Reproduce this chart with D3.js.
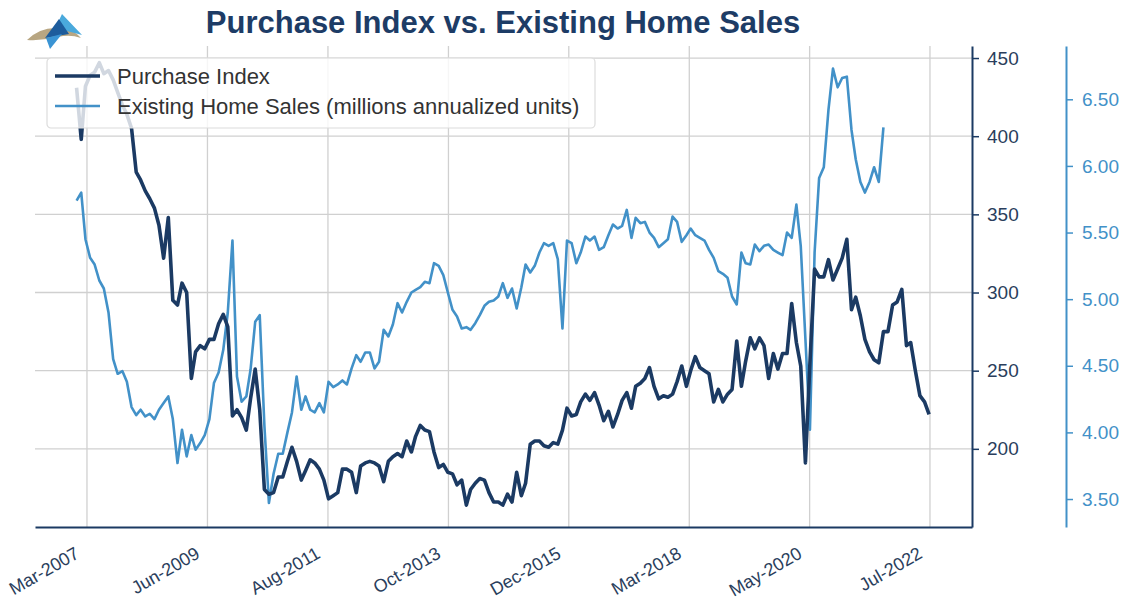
<!DOCTYPE html>
<html>
<head>
<meta charset="utf-8">
<script src="https://cdn.jsdelivr.net/npm/d3@7"></script>
<style>
	body { margin: 0; background: #fff; }
	text { font-family: 'Liberation Sans', Arial, sans-serif; }
</style>
</head>
<body>
<div class="chart"></div>
<script>
// monthly values, first value = Jan-2007
const firstMonth = new Date(2007, 0, 15);

// MBA purchase index (right axis)
const purchaseIndex = [
	431, 398, 432, 439, 441, 447, 440, 442, 436, 428,
	420, 414, 405, 377, 372, 365, 360, 354, 343, 322,
	348, 295, 292, 306, 300, 245, 262, 266, 264, 270,
	270, 280, 286, 278, 221, 225, 220, 212, 232, 251,
	225, 174, 171, 172, 182, 182, 192, 201, 192, 180,
	186, 193, 191, 187, 180, 168, 170, 172, 187, 187,
	185, 172, 189, 191, 192, 191, 189, 179, 192, 195,
	197, 195, 205, 198, 208, 215, 212, 211, 198, 188,
	190, 185, 184, 177, 180, 164, 174, 178, 181, 180,
	172, 166, 166, 164, 171, 166, 185, 170, 178, 203,
	205, 205, 202, 201, 204, 203, 212, 226, 221, 222,
	230, 235, 231, 236, 228, 218, 224, 214, 222, 231,
	236, 226, 240, 242, 245, 252, 240, 232, 234, 233,
	235, 243, 253, 240, 250, 259, 252, 250, 248, 230,
	238, 230, 235, 238, 269, 240, 256, 271, 264, 271,
	266, 245, 261, 251, 261, 261, 293, 268, 253, 191,
	255, 315, 310, 310, 321, 308, 315, 322, 334, 289,
	297, 285, 270, 262, 257, 255, 275, 275, 292, 294,
	302, 266, 268, 250, 234, 230, 222
];

// existing home sales, millions annualized units (far right axis)
const homeSales = [
	5.74, 5.80, 5.45, 5.31, 5.26, 5.14, 5.08, 4.90, 4.55, 4.44,
	4.46, 4.38, 4.19, 4.13, 4.17, 4.12, 4.14, 4.10, 4.17, 4.22,
	4.27, 4.10, 3.77, 4.02, 3.82, 3.98, 3.87, 3.92, 3.98, 4.10,
	4.37, 4.45, 4.62, 4.90, 5.44, 4.42, 4.23, 4.27, 4.47, 4.83,
	4.88, 4.05, 3.47, 3.69, 3.84, 3.84, 4.00, 4.15, 4.42, 4.17,
	4.27, 4.17, 4.15, 4.22, 4.15, 4.38, 4.34, 4.36, 4.39, 4.36,
	4.48, 4.58, 4.53, 4.60, 4.60, 4.48, 4.53, 4.77, 4.72, 4.81,
	4.97, 4.90, 4.98, 5.05, 5.07, 5.09, 5.13, 5.12, 5.27, 5.25,
	5.18, 5.05, 4.92, 4.87, 4.78, 4.79, 4.77, 4.82, 4.88, 4.95,
	4.98, 4.99, 5.02, 5.12, 5.01, 5.08, 4.93, 5.09, 5.26, 5.20,
	5.25, 5.35, 5.42, 5.40, 5.42, 5.30, 4.78, 5.44, 5.42, 5.27,
	5.35, 5.47, 5.44, 5.47, 5.37, 5.39, 5.48, 5.56, 5.53, 5.55,
	5.67, 5.46, 5.61, 5.57, 5.58, 5.50, 5.46, 5.39, 5.42, 5.45,
	5.62, 5.58, 5.43, 5.48, 5.53, 5.48, 5.46, 5.44, 5.37, 5.31,
	5.21, 5.19, 5.16, 5.02, 4.96, 5.35, 5.27, 5.26, 5.41, 5.36,
	5.40, 5.41, 5.37, 5.35, 5.33, 5.50, 5.46, 5.71, 5.40, 4.70,
	4.02, 5.35, 5.91, 5.99, 6.42, 6.73, 6.59, 6.66, 6.67, 6.27,
	6.05, 5.88, 5.80, 5.88, 5.99, 5.88, 6.29
];

const xTickDates = [ '2007-03-25', '2009-06-02', '2011-08-11', '2013-10-19', '2015-12-27', '2018-03-06', '2020-05-13', '2022-07-21' ];
const piTicks = [ 200, 250, 300, 350, 400, 450 ];
const ehsTicks = [ 3.5, 4.0, 4.5, 5.0, 5.5, 6.0, 6.5 ];
const seriesNames = [ 'Purchase Index', 'Existing Home Sales (millions annualized units)' ];

const svgWidth = 1124;
const svgHeight = 600;
const plot = { left: 35, right: 972, top: 46, bottom: 527 };
const navy = '#1b3a63';
const blue = '#4291c8';
const tickColor = '#2a3e5c';

const svg = d3.select('.chart').append('svg').attr('width', svgWidth).attr('height', svgHeight);

const parseDay = d3.timeParse('%Y-%m-%d');
const tickDates = xTickDates.map(parseDay);
const monthOf = (i) => d3.timeMonth.offset(firstMonth, i);

const x = d3.scaleTime().domain([ new Date(2006, 3, 14), new Date(2023, 3, 26) ]).range([ plot.left, plot.right ]);
const yPi = d3.scaleLinear().domain([ 150, 457.7 ]).range([ plot.bottom, plot.top ]);
const yEhs = d3.scaleLinear().domain([ 3.29, 6.9 ]).range([ plot.bottom, plot.top ]);

// grid
svg
	.append('g')
	.selectAll('line')
	.data(tickDates)
	.join('line')
	.attr('x1', (d) => x(d))
	.attr('x2', (d) => x(d))
	.attr('y1', plot.top)
	.attr('y2', plot.bottom)
	.attr('stroke', '#d0d0d0')
	.attr('stroke-width', 1.3);

svg
	.append('g')
	.selectAll('line')
	.data(piTicks)
	.join('line')
	.attr('x1', plot.left)
	.attr('x2', plot.right)
	.attr('y1', (d) => yPi(d))
	.attr('y2', (d) => yPi(d))
	.attr('stroke', '#d0d0d0')
	.attr('stroke-width', 1.3);

// lines
const piLine = d3.line().x((d, i) => x(monthOf(i))).y((d) => yPi(d));
const ehsLine = d3.line().x((d, i) => x(monthOf(i))).y((d) => yEhs(d));

svg
	.append('path')
	.datum(homeSales)
	.attr('fill', 'none')
	.attr('stroke', blue)
	.attr('stroke-width', 2.6)
	.attr('stroke-linejoin', 'round')
	.attr('d', ehsLine);

svg
	.append('path')
	.datum(purchaseIndex)
	.attr('fill', 'none')
	.attr('stroke', navy)
	.attr('stroke-width', 3.6)
	.attr('stroke-linejoin', 'round')
	.attr('d', piLine);

// x axis
const xAxis = svg
	.append('g')
	.attr('transform', `translate(0,${plot.bottom})`)
	.call(d3.axisBottom(x).tickValues(tickDates).tickFormat(d3.timeFormat('%b-%Y')).tickSize(0).tickSizeOuter(0));
xAxis.select('.domain').attr('stroke', navy).attr('stroke-width', 2);
xAxis
	.selectAll('text')
	.attr('y', 0)
	.attr('dy', 0)
	.attr('fill', tickColor)
	.attr('font-size', 18)
	.attr('text-anchor', 'end')
	.attr('transform', 'translate(-7,30) rotate(-30)');

// right axes
const piAxis = svg
	.append('g')
	.attr('transform', `translate(${plot.right},0)`)
	.call(d3.axisRight(yPi).tickValues(piTicks).tickSize(7).tickPadding(8).tickSizeOuter(0));
piAxis.select('.domain').attr('stroke', navy).attr('stroke-width', 2);
piAxis.selectAll('.tick line').attr('stroke', navy).attr('stroke-width', 1.5);
piAxis.selectAll('text').attr('fill', tickColor).attr('font-size', 19);

const ehsAxis = svg
	.append('g')
	.attr('transform', 'translate(1066,0)')
	.call(d3.axisRight(yEhs).tickValues(ehsTicks).tickFormat(d3.format('.2f')).tickSize(7).tickPadding(9).tickSizeOuter(0));
ehsAxis.select('.domain').attr('stroke', blue).attr('stroke-width', 2);
ehsAxis.selectAll('.tick line').attr('stroke', blue).attr('stroke-width', 1.5);
ehsAxis.selectAll('text').attr('fill', blue).attr('font-size', 19);

// legend
const legend = svg.append('g').attr('transform', 'translate(47,58)');
legend
	.append('rect')
	.attr('width', 548)
	.attr('height', 70)
	.attr('rx', 4)
	.attr('fill', '#fff')
	.attr('fill-opacity', 0.8)
	.attr('stroke', '#dcdcdc')
	.attr('stroke-width', 1.2);
const items = legend
	.selectAll('g')
	.data(seriesNames)
	.join('g')
	.attr('transform', (d, i) => `translate(0,${18 + i * 30})`);
items
	.append('line')
	.attr('x1', 8)
	.attr('x2', 53)
	.attr('stroke', (d, i) => (i === 0 ? navy : blue))
	.attr('stroke-width', (d, i) => (i === 0 ? 3.6 : 2.6));
items
	.append('text')
	.attr('x', 70)
	.attr('dy', '0.35em')
	.attr('font-size', 22)
	.attr('fill', '#333')
	.text((d) => d);

// title
svg
	.append('text')
	.attr('x', 503)
	.attr('y', 33)
	.attr('text-anchor', 'middle')
	.attr('font-size', 31)
	.attr('font-weight', 'bold')
	.attr('fill', '#1d3c66')
	.text('Purchase Index vs. Existing Home Sales');

// logo
const logo = svg.append('g');
logo.append('path').attr('d', 'M27,40 Q40,27 58,28 Q74,29 81,38 Q70,34 58,37 Q42,41 27,40 Z').attr('fill', '#b8a682');
logo.append('path').attr('d', 'M54,31 L62,14 L82,35 L67,31 Z').attr('fill', '#4aa9dc');
logo.append('path').attr('d', 'M45,38 L59,19 L69,34 Z').attr('fill', '#1d5c9c');
logo.append('path').attr('d', 'M46,38 L62,34 L50,49 Z').attr('fill', '#3a94d4');
</script>
</body>
</html>
